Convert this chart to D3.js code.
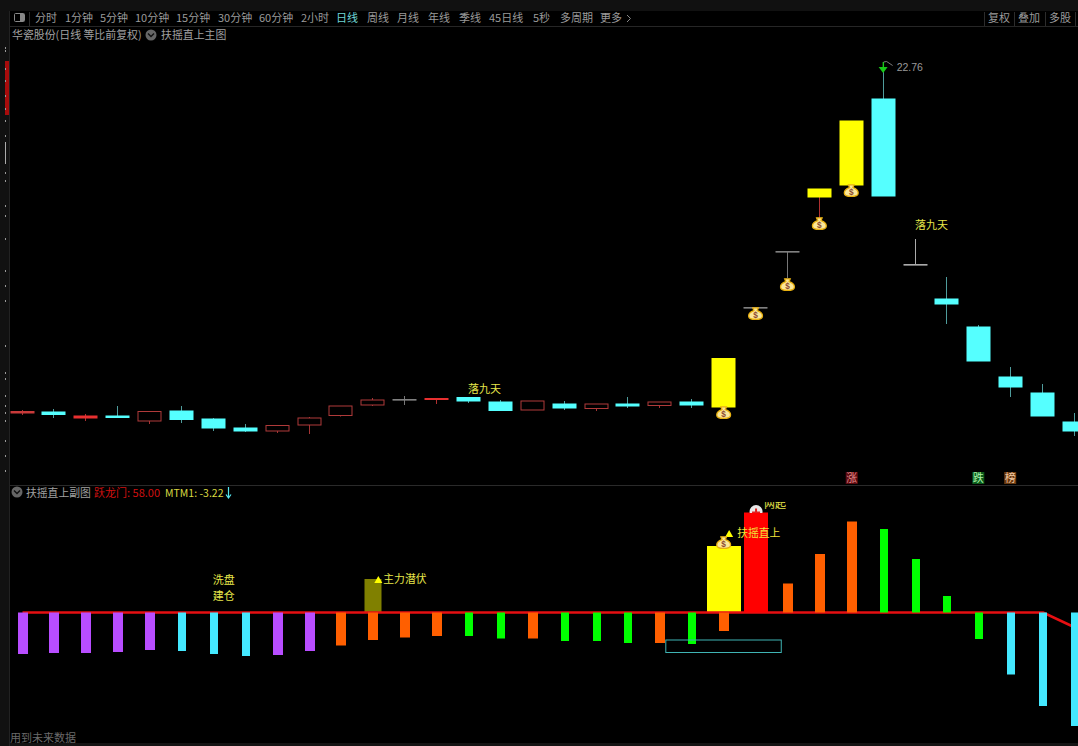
<!DOCTYPE html>
<html><head><meta charset="utf-8">
<script src="https://cdn.jsdelivr.net/npm/d3@7/dist/d3.min.js"></script>
<style>html,body{margin:0;padding:0;background:#000;overflow:hidden}svg{display:block}
text{font-family:"Noto Sans CJK SC","Noto Sans",sans-serif}</style></head><body>
<svg id="c" width="1078" height="746"></svg>
<script>
// ---- data ----
const openP  =[8.72,8.76,8.52,8.60,8.40,8.80,8.48,8.12,8.00,8.24,8.62,9.04,9.26,9.26,9.34,9.16,8.84,9.08,8.90,9.08,9.02,9.16,8.96,12.92,15.16,17.36,17.84,21.28,14.66,13.28,12.16,10.16,9.52,8.36];
const closeP =[8.78,8.66,8.60,8.54,8.78,8.46,8.12,8.00,8.22,8.52,9.00,9.24,9.24,9.30,9.20,8.82,9.20,8.92,9.08,9.00,9.16,9.04,10.90,12.94,15.18,17.68,20.40,17.40,14.64,13.08,10.80,9.76,8.60,8.00];
const highP  =[8.84,8.88,8.68,9.00,8.78,9.00,8.52,8.28,8.22,8.56,9.00,9.32,9.40,9.30,9.36,9.24,9.20,9.20,9.08,9.36,9.16,9.28,10.90,12.94,15.18,17.68,20.40,22.76,15.68,14.16,12.24,10.56,9.88,8.72];
const lowP   =[8.64,8.52,8.40,8.52,8.28,8.32,8.00,7.96,7.92,7.88,8.58,9.00,9.04,9.08,9.12,8.80,8.84,8.84,8.80,8.92,8.92,8.92,8.96,12.44,14.12,16.52,17.84,17.40,14.64,12.28,10.80,9.36,8.60,7.80];
const candleKinds=["redThin","cyan","redSolid","cyan","hollow","cyan","cyan","cyan","hollow","hollow","hollow","hollow","doji","redSolid","cyan","cyan","hollow","cyan","hollow","cyan","hollow","cyan","yellow","doji","doji","yellow","yellow","cyan","dojiLight","cyan","cyan","cyan","cyan","cyan"];
const subValues=[-41.5,-40.5,-40.5,-39.5,-37.5,-38.5,-41.5,-43.5,-42.5,-38.5,-33,-27.5,-25,-23.5,-23.5,-26,-26,-28.5,-28.5,-30.5,-30.5,-31.5,-18.5,100,29,58.5,91,83.5,53.5,16.5,-26.5,-62,-93.5,-113.5];
const subKinds=["purple","purple","purple","purple","purple","cyan","cyan","cyan","purple","purple","orange","orange","orange","orange","green","green","orange","green","green","green","orange","green","orange","red","orange","orange","orange","green","green","green","green","cyan","cyan","cyan"];
const extraIdx=[11,22], extraVal=[33.5,66.5], extraKinds=["olive","yellow"];
const lineVals=[0,0,0,0,0,0,0,0,0,0,0,0,0,0,0,0,0,0,0,0,0,0,0,0,0,0,0,0,0,0,0,0,0,-15];
const bagIdx=[22,23,24,25,26], bagPrice=[8.68,12.64,13.8,16.24,17.56];
const periodLabels=["分时","1分钟","5分钟","10分钟","15分钟","30分钟","60分钟","2小时","日线","周线","月线","年线","季线","45日线","5秒","多周期","更多"];
const rightLabels=["复权","叠加","多股"];
const peakLabel="22.76";
const nineIdx=[14,28], nineText="落九天";
const badgeIdx=[26,30,31], badgeText=["涨","跌","榜"];

// ---- scales ----
const W=1078,H=746;
const x=d3.scaleLinear().domain([0,33]).range([22.5,1075]);
const y=d3.scaleLinear().domain([22.76,6.76]).range([62,462]);
const ys=d3.scaleLinear().domain([100,-100]).range([512.5,712.5]);
const svg=d3.select("#c");
svg.append("rect").attr("width",W).attr("height",H).attr("fill","#000");
const defs=svg.append("defs");
defs.append("clipPath").attr("id","mainClip").append("rect").attr("x",10).attr("y",27).attr("width",W-10).attr("height",458);
defs.append("clipPath").attr("id","subClip").append("rect").attr("x",10).attr("y",486).attr("width",W-10).attr("height",257);
defs.append("clipPath").attr("id","tipClip").append("rect").attr("x",700).attr("y",502).attr("width",120).attr("height",11);

// ---- chrome ----
const strips=[[0,0,W,11,"#111"],[0,743,W,3,"#141414"],[0,11,9,735,"#111"]];
svg.selectAll("rect.strip").data(strips).join("rect").attr("class","strip")
  .attr("x",d=>d[0]).attr("y",d=>d[1]).attr("width",d=>d[2]).attr("height",d=>d[3]).attr("fill",d=>d[4]);
svg.append("line").attr("x1",9.5).attr("x2",9.5).attr("y1",11).attr("y2",746).attr("stroke","#222");
svg.append("line").attr("x1",10).attr("x2",W).attr("y1",26.5).attr("y2",26.5).attr("stroke","#262626");
svg.append("line").attr("x1",10).attr("x2",W).attr("y1",485.5).attr("y2",485.5).attr("stroke","#2a2a2a");
svg.append("rect").attr("x",5).attr("y",61).attr("width",4).attr("height",54).attr("fill","#a80c0c");
const sideTicks=[47,50,68,80,95,108,120,135,143,150,158,172,180,205,215,238,270,285,300,345,372,378,395,405,412,420,440,455,470];
svg.selectAll("rect.st").data(sideTicks).join("rect").attr("class","st").attr("x",5).attr("y",d=>d).attr("width",1).attr("height",2).attr("fill","#999");
svg.append("rect").attr("x",5).attr("y",142).attr("width",1).attr("height",22).attr("fill","#aaa");

// toolbar
const periodX=[35,65,100,135,176,218,259,301,336,367,397,428,459,489,533,560,600];
svg.selectAll("text.p").data(periodLabels).join("text").attr("class","p")
  .attr("x",(d,i)=>periodX[i]).attr("y",22).attr("font-size",11)
  .attr("fill",d=>d==="日线"?"#6fd6d6":"#9a9a9a").text(d=>d);
svg.append("path").attr("d","M627 15l3.5 3.5-3.5 3.5").attr("fill","none").attr("stroke","#888");
svg.append("rect").attr("x",14.5).attr("y",13.5).attr("width",10).attr("height",8).attr("rx",1).attr("fill","none").attr("stroke","#888");
svg.append("rect").attr("x",20).attr("y",14).attr("width",4).attr("height",7).attr("fill","#888");
[29.5,984.5,1014.5,1045.5,1075.5].forEach(v=>svg.append("line").attr("x1",v).attr("x2",v).attr("y1",12).attr("y2",26).attr("stroke","#2c2c2c"));
svg.selectAll("text.r").data(rightLabels).join("text").attr("class","r")
  .attr("x",(d,i)=>[988,1018,1049][i]).attr("y",22).attr("font-size",11).attr("fill","#9a9a9a").text(d=>d);

function chevron(cx,cy){
  svg.append("circle").attr("cx",cx).attr("cy",cy).attr("r",5.5).attr("fill","#666");
  svg.append("path").attr("d",`M${cx-3} ${cy-1.5}l3 3 3-3`).attr("fill","none").attr("stroke","#111").attr("stroke-width",1.4);
}
svg.append("text").attr("x",12).attr("y",39).attr("font-size",10.9).attr("fill","#a0a0a0").text("华瓷股份(日线 等比前复权)");
chevron(151,35);
svg.append("text").attr("x",161).attr("y",39).attr("font-size",10.9).attr("fill","#a0a0a0").text("扶摇直上主图");
chevron(17,492);
svg.append("text").attr("x",26).attr("y",496.5).attr("font-size",10.8).attr("fill","#a0a0a0").text("扶摇直上副图");
svg.append("text").attr("x",94).attr("y",496.5).attr("font-size",11).attr("fill","#d01010").text("跃龙门: 58.00");
svg.append("text").attr("x",165).attr("y",496.5).attr("font-size",10.5).attr("fill","#d8d840").text("MTM1: -3.22");
svg.append("path").attr("d","M228.5 487v10M226 494.5l2.5 3.5 2.5-3.5").attr("fill","none").attr("stroke","#55e6f0").attr("stroke-width",1.2);
svg.append("text").attr("x",10).attr("y",742).attr("font-size",11).attr("fill","#6a6a6a").text("用到未来数据");

// ---- candles ----
const style={
  cyan:{fill:"#55ffff",stroke:"#55ffff",wick:"#4f9c9c"},
  hollow:{fill:"#000",stroke:"#b03a3a",wick:"#a53434"},
  redThin:{fill:"#c83a3a",stroke:"#c83a3a",wick:"#a53434"},
  redSolid:{fill:"#e83030",stroke:"#e83030",wick:"#b03030"},
  yellow:{fill:"#ffff00",stroke:"#ffff00",wick:"#b03030"},
  doji:{fill:"#808080",stroke:"#808080",wick:"#777"},
  dojiLight:{fill:"#aaa",stroke:"#aaa",wick:"#aaa"}
};
const main=svg.append("g").attr("clip-path","url(#mainClip)");
const idx=d3.range(openP.length);
main.selectAll("line.w").data(idx).join("line").attr("class","w")
  .attr("x1",i=>Math.round(x(i))-.5).attr("x2",i=>Math.round(x(i))-.5)
  .attr("y1",i=>y(highP[i])).attr("y2",i=>y(lowP[i]))
  .attr("stroke",i=>style[candleKinds[i]].wick);
const bw=23;
main.selectAll("rect.b").data(idx).join("rect").attr("class","b")
  .attr("x",i=>Math.round(x(i))-bw/2-.5)
  .attr("y",i=>y(Math.max(openP[i],closeP[i])))
  .attr("width",bw)
  .attr("height",i=>Math.max(.6,Math.abs(y(openP[i])-y(closeP[i]))))
  .attr("fill",i=>style[candleKinds[i]].fill)
  .attr("stroke",i=>style[candleKinds[i]].stroke).attr("stroke-width",1);

// money bag
function bag(g,cx,cy){
  const b=g.append("g").attr("transform",`translate(${cx},${cy}) scale(1.1)`);
  b.append("path").attr("d","M-2.5 -6.5h5l-1 2.5c3 1 4.8 3 4.8 4.8c0 2.2-2.2 3.2-6.3 3.2s-6.3-1-6.3-3.2c0-1.8 1.8-3.8 4.8-4.8z")
    .attr("fill","#fbe79a").attr("stroke","#e8b010").attr("stroke-width",1.2);
  b.append("text").attr("x",0).attr("y",2.5).attr("text-anchor","middle").attr("font-size",7.5).attr("font-weight",700)
    .attr("fill","#8a4a30").style("font-family","'Liberation Sans'").text("$");
}
bagIdx.forEach((i,k)=>bag(main,x(i)-.5,y(bagPrice[k])));

// peak marker
const peakX=x(27);
main.append("path").attr("d",`M${peakX-5} ${y(22.56)}h9l-4.5 6z`).attr("fill","#18c818");
main.append("rect").attr("x",peakX-1).attr("y",y(22.76)).attr("width",1.4).attr("height",7).attr("fill","#18c818");
main.append("path").attr("d",`M${peakX} ${y(22.76)}l3 -.5 6 4`).attr("fill","none").attr("stroke","#999").attr("stroke-width",.8);
main.append("text").attr("x",peakX+13).attr("y",y(22.76)+9).attr("font-size",10.5).attr("fill","#999").style("font-family","'Liberation Sans'").text(peakLabel);

// labels
const nineY=[9.52,16.1];
main.selectAll("text.n").data(nineIdx).join("text").attr("class","n")
  .attr("x",(d,i)=>x(d)+(i?16:15.5)).attr("y",(d,i)=>y(nineY[i])).attr("text-anchor","middle")
  .attr("font-size",11).attr("fill","#e6e64a").text(nineText);
const badgeFill=["#5c0a10","#0a5a1a","#6a3a10"], badgeInk=["#e08a8a","#a8f0a8","#f0c8a0"];
badgeIdx.forEach((v,k)=>{
  const cx=x(v)-.5+(k?-1:0);
  main.append("rect").attr("x",cx-5.5).attr("y",472).attr("width",12).attr("height",12).attr("fill",badgeFill[k]);
  main.append("text").attr("x",cx+.5).attr("y",482).attr("text-anchor","middle").attr("font-size",11).attr("fill",badgeInk[k]).text(badgeText[k]);
});

// ---- sub panel ----
const barStyle={purple:{f:"#b84dff",w:10},cyan:{f:"#44e8ff",w:8},orange:{f:"#ff5f00",w:10},green:{f:"#00ff00",w:8},red:{f:"#ff0000",w:24},olive:{f:"#808000",w:17},yellow:{f:"#ffff00",w:34}};
const sub=svg.append("g").attr("clip-path","url(#subClip)");
function bars(cls,is,vals,kinds){
  sub.selectAll("rect."+cls).data(is).join("rect").attr("class",cls)
    .attr("x",(d,k)=>Math.round(x(d))-barStyle[kinds[k]].w/2)
    .attr("y",(d,k)=>Math.min(ys(vals[k]),ys(0)))
    .attr("width",(d,k)=>barStyle[kinds[k]].w)
    .attr("height",(d,k)=>Math.abs(ys(vals[k])-ys(0)))
    .attr("fill",(d,k)=>barStyle[kinds[k]].f);
}
bars("e",extraIdx,extraVal,extraKinds);
sub.append("path").datum(lineVals).attr("fill","none").attr("stroke","#e60f12").attr("stroke-width",2.6)
  .attr("d",d3.line().x((d,i)=>x(i)).y(d=>ys(d)));
bars("m",idx,subValues,subKinds);
sub.append("rect").attr("x",x(20.17)).attr("y",ys(-27.5)).attr("width",x(23.79)-x(20.17)).attr("height",ys(-40)-ys(-27.5)).attr("fill","none").attr("stroke","#3fb4b4");

function mark(text,i,v,dx,gap){
  const px=x(i)+dx,py=ys(v);
  sub.append("path").attr("d",`M${px-4} ${py+4}l4 -7 4 7z`).attr("fill","#ffff00");
  sub.append("text").attr("x",px+gap).attr("y",py+4).attr("font-size",10.8).attr("fill",i===22?"#f2e33a":"#e6e64a").text(text);
}
mark("主力潜伏",11,33.5,5,5);
mark("扶摇直上",22,79.5,5,8);
sub.append("text").attr("x",x(6)+10).attr("y",ys(28.5)).attr("text-anchor","middle").attr("font-size",11).attr("fill","#e6e64a").text("洗盘");
sub.append("text").attr("x",x(6)+10).attr("y",ys(12.5)).attr("text-anchor","middle").attr("font-size",11).attr("fill","#e6e64a").text("建仓");
bag(sub,x(22)-.5,ys(68.5));
// red-cross badge on the top bar, clipped by the bar and the header
const tip=svg.append("g").attr("clip-path","url(#tipClip)");
tip.append("circle").attr("cx",x(23)).attr("cy",ys(101)).attr("r",6.5).attr("fill","#e8e8e8");
tip.append("path").attr("d",`M${x(23)-4} ${ys(100)}h8M${x(23)} ${ys(100)-4}v8`).attr("stroke","#e02020").attr("stroke-width",2);
tip.append("text").attr("x",x(23)+8).attr("y",ys(105)).attr("font-size",11).attr("fill","#e6e64a").text("两起");
</script></body></html>
